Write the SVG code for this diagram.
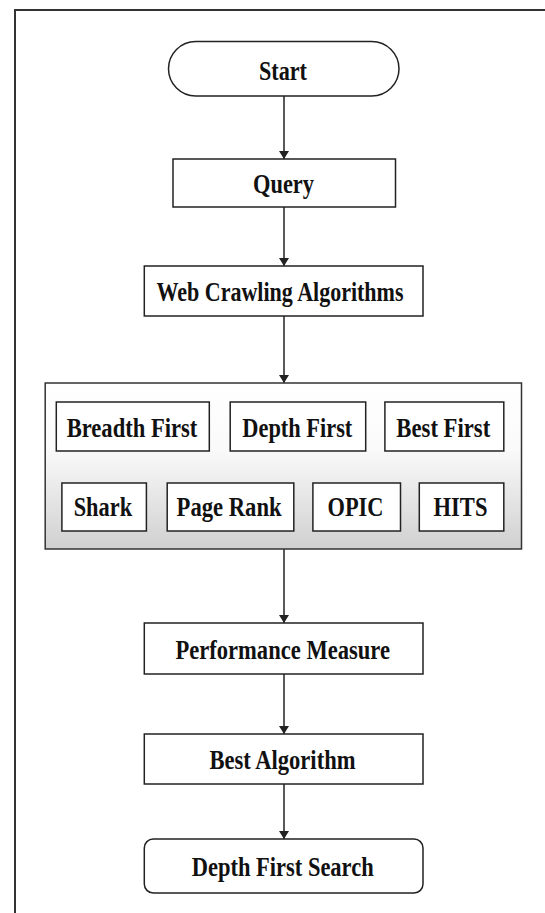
<svg xmlns="http://www.w3.org/2000/svg" width="545" height="913" viewBox="0 0 545 913">
<style>
.box{fill:#fff;stroke:#222;stroke-width:1.5}
.lbl{font-family:"Liberation Serif","Times New Roman",serif;font-weight:bold;font-size:27.5px;fill:#111;text-anchor:middle}
.con{stroke:#222;stroke-width:1.5;fill:none}
.frame{stroke:#333;stroke-width:2;fill:none}
</style>
<defs>
<marker id="arr" viewBox="0 0 8 10" refX="8" refY="5" markerWidth="8" markerHeight="10" markerUnits="userSpaceOnUse" orient="auto">
<path d="M0,0 L8,5 L0,10 Z" fill="#222"/>
</marker>
<linearGradient id="grad" x1="0" y1="0" x2="0" y2="1">
<stop offset="0" stop-color="#ffffff"/>
<stop offset="0.4" stop-color="#fafafa"/>
<stop offset="1" stop-color="#d0d0d0"/>
</linearGradient>
</defs>
<rect width="545" height="913" fill="#fff"/>
<path class="frame" d="M15,913 L15,10 L545,10"/>

<g id="connectors">
<line class="con" x1="284" y1="96" x2="284" y2="159" marker-end="url(#arr)"/>
<line class="con" x1="284" y1="207" x2="284" y2="266" marker-end="url(#arr)"/>
<line class="con" x1="284" y1="316" x2="284" y2="383" marker-end="url(#arr)"/>
<line class="con" x1="284" y1="549" x2="284" y2="623" marker-end="url(#arr)"/>
<line class="con" x1="284" y1="674" x2="284" y2="734" marker-end="url(#arr)"/>
<line class="con" x1="284" y1="784" x2="284" y2="839" marker-end="url(#arr)"/>
</g>

<g id="start">
<rect class="box" x="168.5" y="41.5" width="230.5" height="54.5" rx="27.25" ry="27.25"/>
<text class="lbl" x="283" y="80" textLength="48" lengthAdjust="spacingAndGlyphs">Start</text>
</g>

<g id="query">
<rect class="box" x="173" y="159" width="222.5" height="48"/>
<text class="lbl" x="283.5" y="193" textLength="61" lengthAdjust="spacingAndGlyphs">Query</text>
</g>

<g id="webcrawling">
<rect class="box" x="144.3" y="266" width="278.7" height="50"/>
<text class="lbl" x="280" y="301" textLength="247" lengthAdjust="spacingAndGlyphs">Web Crawling Algorithms</text>
</g>

<g id="algorithms">
<rect x="45.2" y="383" width="476.3" height="166" fill="url(#grad)" stroke="#333" stroke-width="1.5"/>
</g>

<g id="breadth">
<rect class="box" x="56.3" y="402" width="153" height="49"/>
<text class="lbl" x="132" y="437" textLength="130.7" lengthAdjust="spacingAndGlyphs">Breadth First</text>
</g>
<g id="depth">
<rect class="box" x="230.2" y="402" width="135.5" height="49"/>
<text class="lbl" x="297.3" y="437" textLength="110" lengthAdjust="spacingAndGlyphs">Depth First</text>
</g>
<g id="best">
<rect class="box" x="384.9" y="402" width="118.9" height="49"/>
<text class="lbl" x="443.3" y="437" textLength="93.9" lengthAdjust="spacingAndGlyphs">Best First</text>
</g>

<g id="shark">
<rect class="box" x="61.9" y="483" width="84.5" height="48"/>
<text class="lbl" x="102.9" y="516" textLength="58.4" lengthAdjust="spacingAndGlyphs">Shark</text>
</g>
<g id="pagerank">
<rect class="box" x="167.2" y="483" width="126.6" height="48"/>
<text class="lbl" x="229.1" y="516" textLength="105" lengthAdjust="spacingAndGlyphs">Page Rank</text>
</g>
<g id="opic">
<rect class="box" x="312.9" y="483" width="87.6" height="48"/>
<text class="lbl" x="355.5" y="516" textLength="56" lengthAdjust="spacingAndGlyphs">OPIC</text>
</g>
<g id="hits">
<rect class="box" x="419.3" y="483" width="84.5" height="48"/>
<text class="lbl" x="460.5" y="516" textLength="53.9" lengthAdjust="spacingAndGlyphs">HITS</text>
</g>

<g id="performance">
<rect class="box" x="144.3" y="623" width="278.7" height="51"/>
<text class="lbl" x="282.7" y="659" textLength="214.5" lengthAdjust="spacingAndGlyphs">Performance Measure</text>
</g>

<g id="bestalgorithm">
<rect class="box" x="144.3" y="734" width="278.7" height="50"/>
<text class="lbl" x="282.5" y="769" textLength="146" lengthAdjust="spacingAndGlyphs">Best Algorithm</text>
</g>

<g id="dfs">
<rect class="box" x="144.3" y="839" width="278.7" height="54" rx="9" ry="9"/>
<text class="lbl" x="282.7" y="876" textLength="182" lengthAdjust="spacingAndGlyphs">Depth First Search</text>
</g>
</svg>
